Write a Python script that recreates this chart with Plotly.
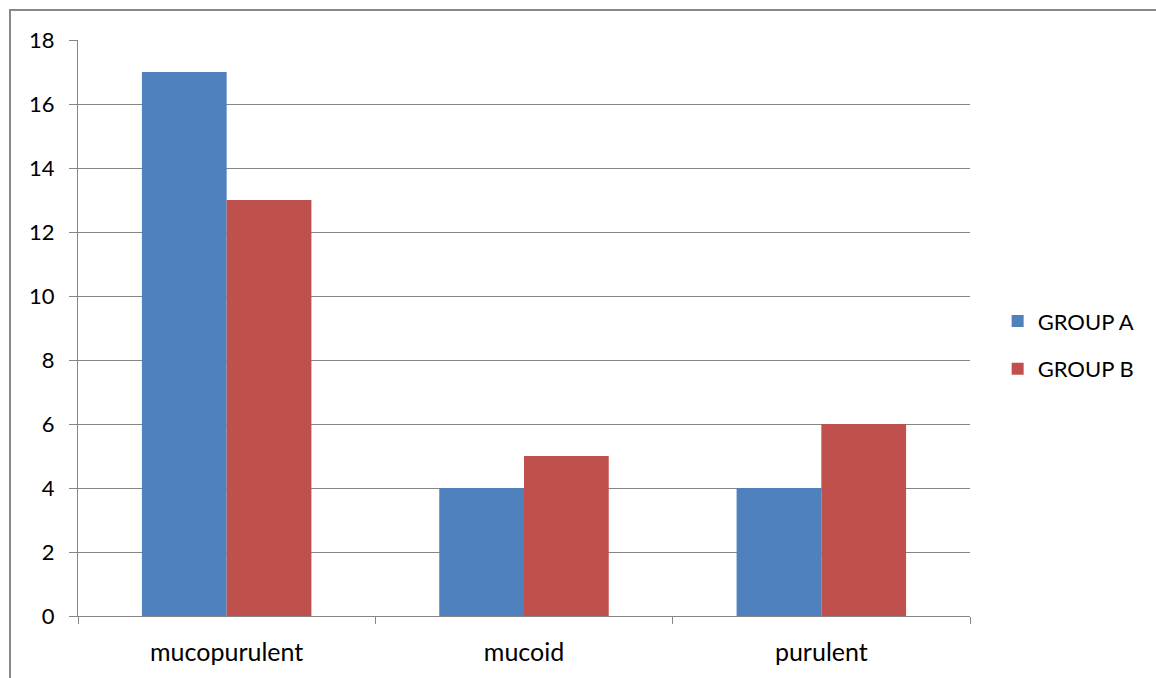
import plotly.graph_objects as go

categories = ["mucopurulent", "mucoid", "purulent"]
group_a = [17, 4, 4]
group_b = [13, 5, 6]
y_ticks = [0, 2, 4, 6, 8, 10, 12, 14, 16, 18]

GRID = "#868686"
FONT = "Lato, 'Open Sans', Arial, sans-serif"

fig = go.Figure()
fig.add_trace(go.Bar(x=list(range(len(categories))), y=group_a, name="GROUP A",
                     marker=dict(color="#4F81BD", line=dict(width=0)), legendgroup="a"))
fig.add_trace(go.Bar(x=list(range(len(categories))), y=group_b, name="GROUP B",
                     marker=dict(color="#C0504D", line=dict(width=0)), legendgroup="b"))

fig.update_layout(
    width=1156, height=678,
    margin=dict(l=78, r=186, t=40, b=62),
    paper_bgcolor="white", plot_bgcolor="white",
    barmode="group", bargap=0.43, bargroupgap=0,
    font=dict(family=FONT, size=22, color="#000000"),
    legend=dict(x=1.031, y=0.47, xanchor="left", yanchor="middle",
                font=dict(size=22), tracegroupgap=16,
                itemwidth=30, bgcolor="rgba(0,0,0,0)"),
    xaxis=dict(
        range=[-0.5, len(categories) - 0.5],
        tickmode="array", tickvals=list(range(len(categories))), ticktext=categories,
        ticks="", showgrid=False, zeroline=False,
        showline=True, linecolor=GRID, linewidth=1,
        minor=dict(ticks="outside", tick0=-0.5, dtick=1, ticklen=7,
                   tickcolor=GRID, tickwidth=1, showgrid=False),
        tickfont=dict(size=25), ticklabelstandoff=14,
    ),
    yaxis=dict(
        range=[0, 18], tickmode="array", tickvals=y_ticks,
        ticks="outside", ticklen=8, tickcolor=GRID, tickwidth=1,
        showgrid=True, gridcolor=GRID, gridwidth=1, zeroline=False,
        showline=True, linecolor=GRID, linewidth=1,
        tickfont=dict(size=22), ticklabelstandoff=10,
    ),
)

# outer chart frame
fig.add_shape(type="rect", xref="paper", yref="paper",
              x0=(10 - 78) / 892, x1=1.4, y0=-0.3, y1=(616 - 10) / 576,
              line=dict(color="#888888", width=2), fillcolor="rgba(0,0,0,0)",
              layer="below")

fig.write_html("out.html")
